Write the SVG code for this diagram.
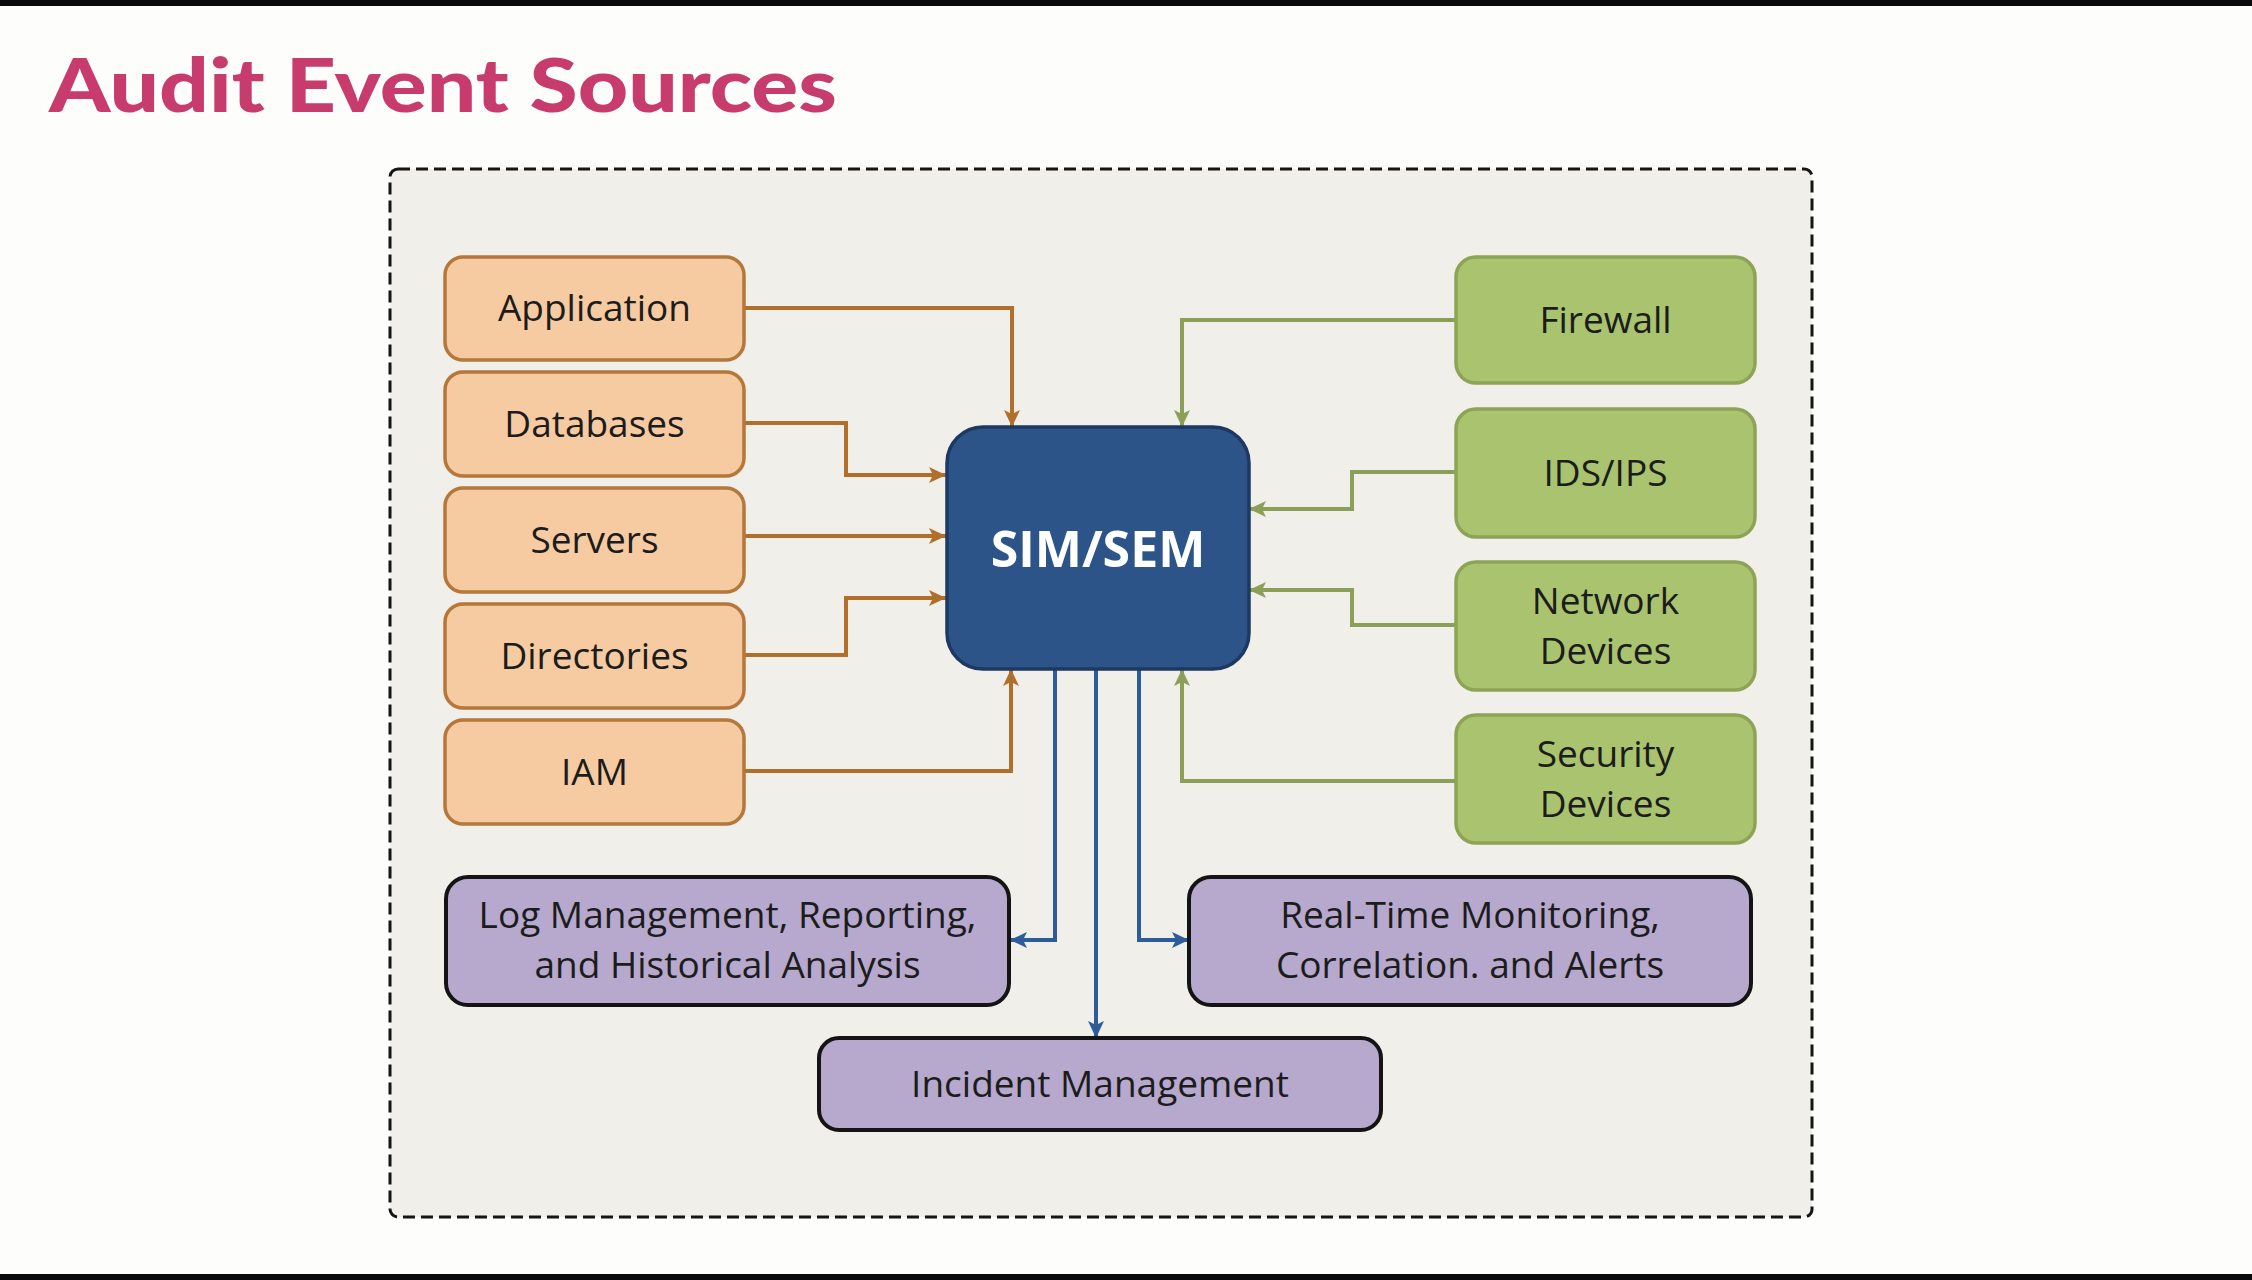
<svg xmlns="http://www.w3.org/2000/svg" width="2252" height="1280" viewBox="0 0 2252 1280">
  <style>
    .lbl { font-family: "Open Sans", "Liberation Sans", sans-serif; font-size: 37px; fill: #1c1c1c; text-anchor: middle; }
    .src { fill: #F6CBA2; stroke: #B5773A; stroke-width: 3.5; }
    .net { fill: #A9C36E; stroke: #8DA456; stroke-width: 3.5; }
    .out { fill: #B6A9CD; stroke: #141414; stroke-width: 4; }
    .co { fill: none; stroke: #B06F2A; stroke-width: 4; marker-end: url(#ao); }
    .cg { fill: none; stroke: #8C9F58; stroke-width: 4; marker-end: url(#ag); }
    .cb { fill: none; stroke: #2E5C99; stroke-width: 4; marker-end: url(#ab); }
  </style>
  <defs>
    <marker id="ao" markerUnits="userSpaceOnUse" markerWidth="18" markerHeight="16" refX="17" refY="8" orient="auto">
      <path d="M0,0 L17,8 L0,16 L4,8 z" fill="#B06F2A"/>
    </marker>
    <marker id="ag" markerUnits="userSpaceOnUse" markerWidth="18" markerHeight="16" refX="17" refY="8" orient="auto">
      <path d="M0,0 L17,8 L0,16 L4,8 z" fill="#8C9F58"/>
    </marker>
    <marker id="ab" markerUnits="userSpaceOnUse" markerWidth="18" markerHeight="16" refX="17" refY="8" orient="auto">
      <path d="M0,0 L17,8 L0,16 L4,8 z" fill="#2E5C99"/>
    </marker>
  </defs>

  <rect x="0" y="0" width="2252" height="1280" fill="#FDFDFC"/>
  <rect x="0" y="0" width="2252" height="6" fill="#0a0a0a"/>
  <rect x="0" y="1274" width="2252" height="6" fill="#0a0a0a"/>

  <text x="49" y="112" textLength="788" lengthAdjust="spacingAndGlyphs" font-family="Lato, 'Liberation Sans', sans-serif" font-weight="900" font-size="74" fill="#C83C6D">Audit Event Sources</text>

  <rect id="container" x="390" y="169" width="1422" height="1048" rx="8" fill="#F0EFE9" stroke="#151515" stroke-width="3" stroke-dasharray="12 6"/>

  <g id="connectors">
    <path class="co" d="M744,308 H1012 V427"/>
    <path class="co" d="M744,423 H846 V475 H946"/>
    <path class="co" d="M744,536 H946"/>
    <path class="co" d="M744,655 H846 V598 H946"/>
    <path class="co" d="M744,771 H1011 V669"/>
    <path class="cg" d="M1456,320 H1182 V427"/>
    <path class="cg" d="M1456,472 H1352 V509 H1249"/>
    <path class="cg" d="M1456,625 H1352 V590 H1249"/>
    <path class="cg" d="M1456,781 H1182 V669"/>
    <path class="cb" d="M1055,669 V940 H1010"/>
    <path class="cb" d="M1096,669 V1038"/>
    <path class="cb" d="M1139,669 V940 H1189"/>
  </g>

  <g id="application"><rect class="src" x="445" y="257" width="299" height="103" rx="18"/><text class="lbl" x="594.5" y="321">Application</text></g>
  <g id="databases"><rect class="src" x="445" y="372" width="299" height="104" rx="18"/><text class="lbl" x="594.5" y="437">Databases</text></g>
  <g id="servers"><rect class="src" x="445" y="488" width="299" height="104" rx="18"/><text class="lbl" x="594.5" y="553">Servers</text></g>
  <g id="directories"><rect class="src" x="445" y="604" width="299" height="104" rx="18"/><text class="lbl" x="594.5" y="669">Directories</text></g>
  <g id="iam"><rect class="src" x="445" y="720" width="299" height="104" rx="18"/><text class="lbl" x="594.5" y="785">IAM</text></g>

  <g id="simsem">
    <rect x="947" y="427" width="302" height="242" rx="36" fill="#2D5489" stroke="#1D3961" stroke-width="3.5"/>
    <text x="1098" y="567" font-family="'Open Sans', 'Liberation Sans', sans-serif" font-weight="700" font-size="50" fill="#FFFFFF" text-anchor="middle">SIM/SEM</text>
  </g>

  <g id="firewall"><rect class="net" x="1456" y="257" width="299" height="126" rx="20"/><text class="lbl" x="1605.5" y="333">Firewall</text></g>
  <g id="idsips"><rect class="net" x="1456" y="409" width="299" height="128" rx="20"/><text class="lbl" x="1605.5" y="486">IDS/IPS</text></g>
  <g id="network-devices"><rect class="net" x="1456" y="562" width="299" height="128" rx="20"/><text class="lbl" x="1605.5" y="614">Network</text><text class="lbl" x="1605.5" y="664">Devices</text></g>
  <g id="security-devices"><rect class="net" x="1456" y="715" width="299" height="128" rx="20"/><text class="lbl" x="1605.5" y="767">Security</text><text class="lbl" x="1605.5" y="817">Devices</text></g>

  <g id="log-management"><rect class="out" x="446" y="877" width="563" height="128" rx="22"/><text class="lbl" x="727.5" y="928">Log Management, Reporting,</text><text class="lbl" x="727.5" y="978">and Historical Analysis</text></g>
  <g id="real-time"><rect class="out" x="1189" y="877" width="562" height="128" rx="22"/><text class="lbl" x="1470" y="928">Real-Time Monitoring,</text><text class="lbl" x="1470" y="978">Correlation. and Alerts</text></g>
  <g id="incident"><rect class="out" x="819" y="1038" width="562" height="92" rx="20"/><text class="lbl" x="1100" y="1097">Incident Management</text></g>
</svg>
